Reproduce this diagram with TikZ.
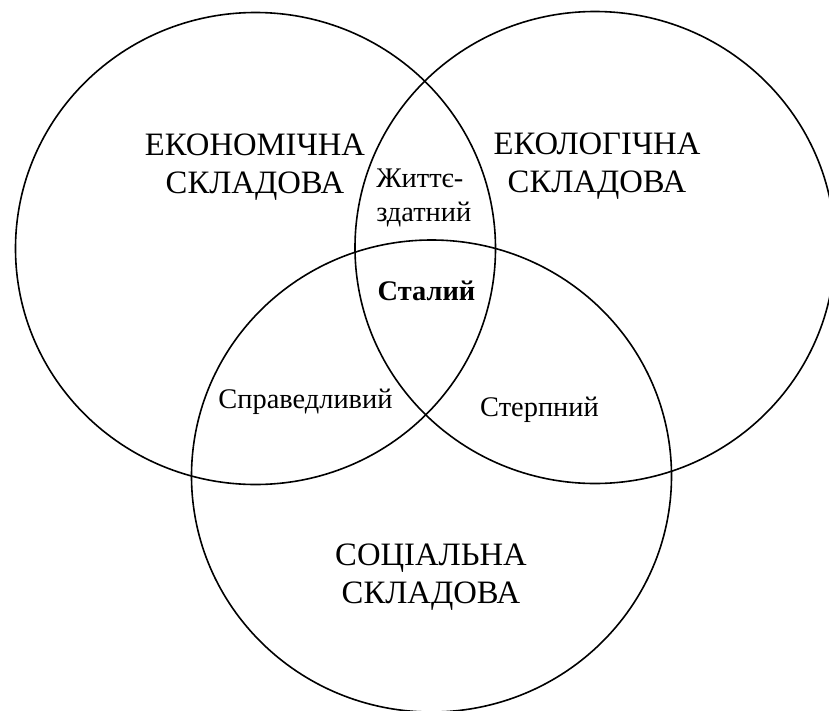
\documentclass[tikz,border=0pt]{standalone}
\usepackage{fontspec}
\setmainfont{Liberation Serif}
\usepackage{tikz}
\usetikzlibrary{positioning, shapes}

\begin{document}
\begin{tikzpicture}[x=0.75pt, y=-0.75pt]
  \tikzstyle{ring}=[draw, ellipse, line width=1.2pt, minimum width=360pt, minimum height=354pt, inner sep=0pt]
  \tikzstyle{part}=[align=center, inner sep=0pt, font=\fontsize{24.5}{28.5}\selectfont]
  \tikzstyle{zone}=[inner sep=0pt, font=\fontsize{21.3}{25.5}\selectfont]
  \useasboundingbox (0,0) rectangle (829,711);

  % three components
  \node[ring] (econ) at (255.5,248.5) {};
  \node[ring] (ecol) at (595,247.5) {};
  \node[ring] (soc) at (431.5,476) {};

  \node[part, anchor=base] (econtxt) at (255,193) {ЕКОНОМІЧНА\\СКЛАДОВА};
  \node[part, anchor=base] (ecoltxt) at (597,192) {ЕКОЛОГІЧНА\\СКЛАДОВА};
  \node[part, anchor=base] (soctxt) at (431,603) {СОЦІАЛЬНА\\СКЛАДОВА};

  % overlaps
  \node[zone, align=left, anchor=base west] (viable) at (376,221) {Життє-\\здатний};
  \node[zone, anchor=base, font=\fontsize{21.3}{25.5}\selectfont\bfseries] (stable) at (426.5,300.7) {Сталий};
  \node[zone, anchor=base] (fair) at (305.5,408) {Справедливий};
  \node[zone, anchor=base] (bear) at (539.5,416) {Стерпний};
\end{tikzpicture}
\end{document}
